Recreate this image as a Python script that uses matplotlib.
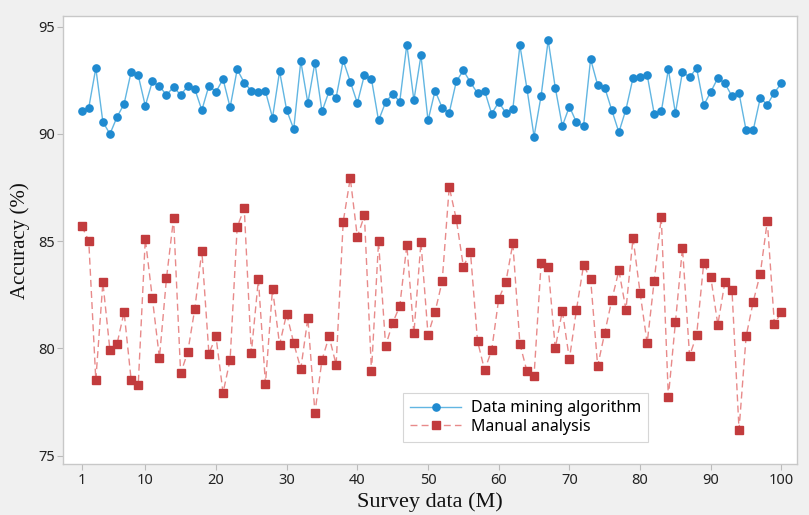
import matplotlib
matplotlib.use("Agg")
import matplotlib.pyplot as plt
import numpy as np

survey = list(range(1, 101))
mining = [91.08, 91.22, 93.07, 90.56, 90.00, 90.79, 91.40, 92.90, 92.73, 91.31,
          92.45, 92.22, 91.82, 92.19, 91.82, 92.22, 92.10, 91.11, 92.25, 91.96,
          92.56, 91.24, 93.01, 92.39, 92.02, 91.96, 91.99, 90.76, 92.92, 91.11,
          90.23, 93.39, 91.44, 93.33, 91.05, 91.99, 91.70, 93.43, 92.44, 91.44,
          92.75, 92.55, 90.63, 91.48, 91.87, 91.51, 94.17, 91.57, 93.66, 90.63,
          92.02, 91.22, 90.99, 92.45, 92.96, 92.41, 91.90, 92.02, 90.94, 91.48,
          90.99, 91.17, 94.13, 92.10, 89.88, 91.79, 94.37, 92.16, 90.37, 91.28,
          90.54, 90.37, 93.49, 92.28, 92.16, 91.11, 90.08, 91.14, 92.61, 92.67,
          92.76, 90.94, 91.05, 93.01, 90.97, 92.90, 92.64, 93.07, 91.34, 91.96,
          92.61, 92.36, 91.76, 91.90, 90.17, 90.17, 91.67, 91.37, 91.93, 92.36]
manual = [85.71, 85.02, 78.53, 83.08, 79.91, 80.21, 81.70, 78.53, 78.30, 85.11,
          82.34, 79.56, 83.28, 86.07, 78.84, 79.82, 81.84, 84.56, 79.76, 80.56,
          77.93, 79.48, 85.66, 86.53, 79.79, 83.22, 78.35, 82.79, 80.18, 81.62,
          80.25, 79.05, 81.42, 77.00, 79.47, 80.56, 79.24, 85.91, 87.94, 85.20,
          86.20, 78.93, 84.99, 80.12, 81.19, 81.98, 84.82, 80.70, 84.96, 80.64,
          81.71, 83.13, 87.53, 86.02, 83.82, 84.50, 80.35, 78.99, 79.91, 82.31,
          83.08, 84.90, 80.21, 78.93, 78.73, 83.97, 83.81, 80.01, 81.75, 79.50,
          81.81, 83.87, 83.25, 79.18, 80.73, 82.26, 83.64, 81.81, 85.15, 82.60,
          80.25, 83.16, 86.13, 77.73, 81.22, 84.70, 79.65, 80.62, 83.97, 83.33,
          81.11, 83.10, 82.74, 76.21, 80.56, 82.17, 83.48, 85.94, 81.14, 81.71]
xticks = [1, 10, 20, 30, 40, 50, 60, 70, 80, 90, 100]
yticks = [75, 80, 85, 90, 95]

fig = plt.figure(figsize=(8.09, 5.15), dpi=100, facecolor="#f0f0f0")
ax = fig.add_axes([63.3/809, 1-464.3/515, (797-63.3)/809, (464.3-16)/515])
ax.set_facecolor("white")

ax.plot(survey, mining, color="#62b6e2", lw=1.0, marker="o", ms=5.2,
        mfc="#1f8ad0", mec="#1f8ad0", label="Data mining algorithm", zorder=3)
ax.plot(survey, manual, color="#e88a8a", lw=1.0, ls=(0, (5, 3)), marker="s", ms=6,
        mfc="#c23b3d", mec="#c23b3d", label="Manual analysis", zorder=3)

ax.set_xlim(-1.6, 102.2)
ax.set_ylim(74.6, 95.5)
ax.set_xticks(xticks)
ax.set_yticks(yticks)
ax.set_xticklabels([str(t) for t in xticks], fontfamily="Noto Sans", fontsize=10.5, color="#222222")
ax.set_yticklabels([str(t) for t in yticks], fontfamily="Noto Sans", fontsize=10.5, color="#222222")
ax.tick_params(axis="both", direction="out", length=4, width=0.8, color="#bbbbbb", pad=2)
for s in ax.spines.values():
    s.set_color("#c8c8c8")
    s.set_linewidth(1.0)

ax.set_xlabel("Survey data (M)", fontfamily="Liberation Serif", fontsize=16, color="#111111", labelpad=3)
ax.set_ylabel("Accuracy (%)", fontfamily="Liberation Serif", fontsize=15, color="#111111", labelpad=6)

leg = ax.legend(loc="upper left", bbox_to_anchor=(403/809, 1-393/515), bbox_transform=fig.transFigure,
                prop={"family": "Noto Sans", "size": 11.5}, frameon=True, fancybox=False,
                edgecolor="#cccccc", handlelength=3.2, borderpad=0.45, labelspacing=0.15,
                handletextpad=0.6, borderaxespad=0)
leg.get_frame().set_linewidth(0.8)

fig.savefig("out.png", dpi=100, facecolor=fig.get_facecolor())
